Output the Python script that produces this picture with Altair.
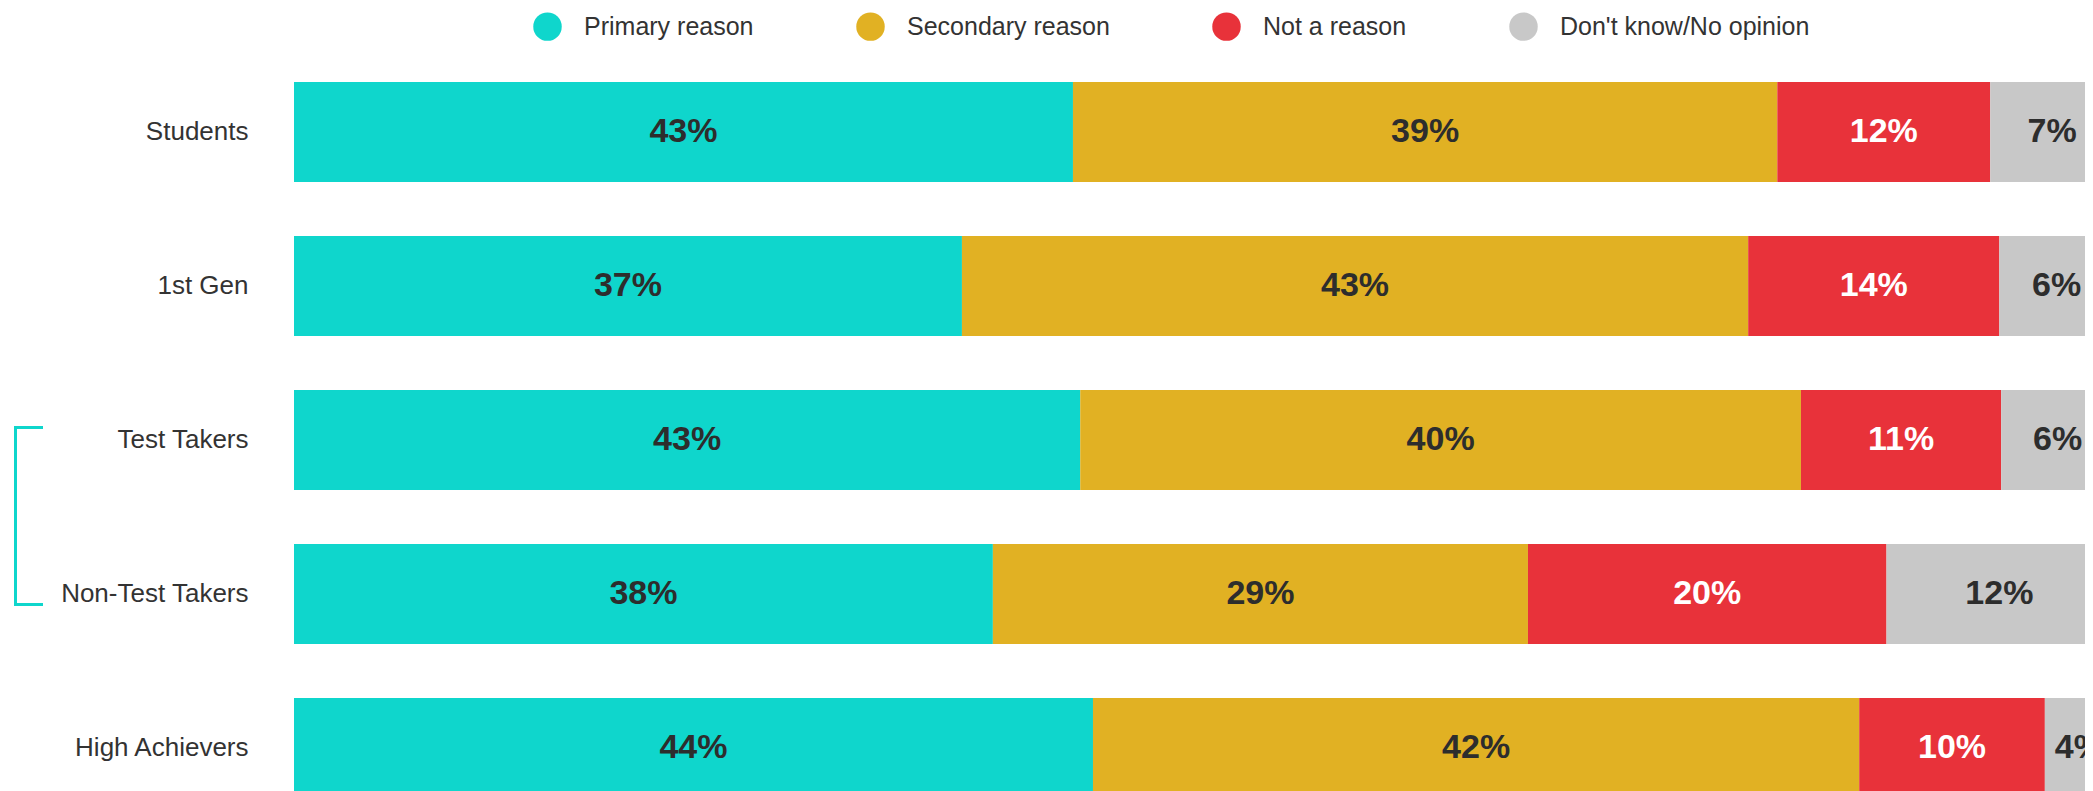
import altair as alt
import pandas as pd

groups = ["Students", "1st Gen", "Test Takers", "Non-Test Takers", "High Achievers"]
reasons = ["Primary reason", "Secondary reason", "Not a reason", "Don't know/No opinion"]
colors = ["#0fd6cc", "#e1b123", "#e8323a", "#c8c8c8"]

primary = [42.8, 36.7, 43.2, 38.4, 43.9]
secondary = [38.7, 43.2, 39.6, 29.4, 42.1]
not_reason = [11.7, 13.8, 11.0, 19.7, 10.2]
dont_know = [6.8, 6.3, 6.2, 12.4, 3.8]

bracket_from = ["Test Takers"]
bracket_to = ["Non-Test Takers"]

FONT = "Liberation Sans"
DARK = "#2d2d2d"
TEAL = colors[0]

rows = []
for i, g in enumerate(groups):
    start = 0.0
    for r, vals in zip(reasons, [primary, secondary, not_reason, dont_know]):
        v = vals[i]
        rows.append(dict(group=g, reason=r, value=v, start=start, end=start + v,
                         mid=start + v / 2, label=f"{round(v)}%"))
        start += v
df = pd.DataFrame(rows)
br = pd.DataFrame({"group": bracket_from, "group_end": bracket_to})

PLOT_W = 1791
ysc = alt.Scale(domain=groups, paddingInner=0.3506, paddingOuter=0.1753)
xsc = alt.Scale(domain=[0, PLOT_W / 18.2], nice=False, zero=True)
yaxis = alt.Axis(domain=False, ticks=False, grid=False, labelFontSize=26, labelFont=FONT,
                 labelColor="#333333", labelPadding=46, labelLimit=500)


def yenc(field):
    return alt.Y(f"{field}:N", scale=ysc, sort=groups, title=None, axis=yaxis)


bars = alt.Chart(df).mark_bar(clip=True, strokeWidth=0).encode(
    x=alt.X("start:Q", scale=xsc, axis=None),
    x2="end:Q",
    y=yenc("group"),
    color=alt.Color(
        "reason:N",
        scale=alt.Scale(domain=reasons, range=colors),
        legend=alt.Legend(
            title=None, orient="none", legendX=239, legendY=-43, direction="horizontal",
            columns=4, symbolType="circle", symbolSize=810, symbolStrokeWidth=0,
            symbolOpacity=1, labelFontSize=25, labelFont=FONT, labelColor="#333333",
            labelOffset=22, columnPadding=102, padding=0, labelLimit=600,
        ),
    ),
)

text = alt.Chart(df).mark_text(clip=True, font=FONT, fontSize=34, fontWeight="bold",
                               baseline="middle", align="center").encode(
    x=alt.X("mid:Q", scale=xsc, axis=None),
    y=yenc("group"),
    text="label:N",
    color=alt.condition(alt.datum.reason == "Not a reason", alt.value("white"), alt.value(DARK)),
)

vline = alt.Chart(br).mark_rule(color=TEAL, strokeWidth=3, yOffset=-12.5, y2Offset=10.5,
                                strokeCap="square").encode(
    x=alt.value(-278.5), y=yenc("group"), y2="group_end:N")
top_arm = alt.Chart(br).mark_rule(color=TEAL, strokeWidth=3, yOffset=-12.5).encode(
    x=alt.value(-280), x2=alt.value(-251), y=yenc("group"))
bottom_arm = alt.Chart(br).mark_rule(color=TEAL, strokeWidth=3, yOffset=10.5).encode(
    x=alt.value(-280), x2=alt.value(-251), y=yenc("group_end"))

chart = alt.layer(bars, text, vline, top_arm, bottom_arm).properties(
    width=PLOT_W, height=770,
    autosize=alt.AutoSizeParams(type="none"),
    padding={"left": 286, "top": 47, "right": 0, "bottom": 0},
    background="white",
).configure_view(stroke=None)

chart.save("out.html", embed_options={"renderer": "svg", "actions": False})
